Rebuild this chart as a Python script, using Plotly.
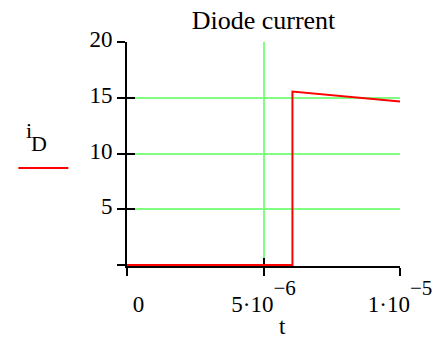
import plotly.graph_objects as go

# diode current trace
t = [0, 6.06e-6, 6.06e-6, 1e-5]
i_D = [0, 0, 15.56, 14.67]

x_tickvals = [0, 5e-6, 1e-5]
x_ticktext = ["\u00a0\u00a0\u00a0\u00a00",
              "5·10<sup><sup><span style='font-size:21px'>−6</span></sup></sup>",
              "1·10<sup><sup><span style='font-size:21px'>−5</span></sup></sup>"]
y_tickvals = [0, 5, 10, 15, 20]
y_ticktext = ["", "5", "10", "15", "20"]

serif = "Liberation Serif, Times New Roman, serif"
green = "#80ff80"

fig = go.Figure()
fig.add_trace(go.Scatter(x=t, y=i_D, mode="lines", line=dict(color="#ff0000", width=2),
                         cliponaxis=False, showlegend=False, hoverinfo="skip"))
# dummy trace so the overlay axes (inner half of the ticks) get drawn
fig.add_trace(go.Scatter(x=[None], y=[None], xaxis="x2", yaxis="y2",
                         showlegend=False, hoverinfo="skip"))

# tiny negative start so the i=0 stretch isn't clipped under the axis line
y_range = [-0.08, 20]

fig.update_layout(
    width=444, height=338, autosize=False,
    margin=dict(l=127, r=33, t=42, b=72),
    paper_bgcolor="white", plot_bgcolor="white",
    font=dict(family=serif, size=23, color="black"),
    title=dict(text="Diode current", x=0.5, xanchor="center", xref="paper",
               y=0.94, yanchor="middle", font=dict(size=26, family=serif, color="black")),
    xaxis=dict(range=[0, 1e-5], tickvals=x_tickvals, ticktext=x_ticktext,
               showline=True, linecolor="black", linewidth=2,
               ticks="outside", ticklen=8, tickwidth=2, tickcolor="black",
               showgrid=True, gridcolor=green, gridwidth=1.5, zeroline=False,
               layer="below traces", tickfont=dict(family=serif, size=23),
               ticklabelstandoff=8),
    yaxis=dict(range=y_range, tickvals=y_tickvals, ticktext=y_ticktext,
               showline=True, linecolor="black", linewidth=2,
               ticks="outside", ticklen=8, tickwidth=2, tickcolor="black",
               showgrid=True, gridcolor=green, gridwidth=1.5, zeroline=False,
               layer="below traces", tickfont=dict(family=serif, size=23),
               ticklabelshift=-3),
    xaxis2=dict(range=[0, 1e-5], overlaying="x", anchor="y", side="bottom",
                tickvals=x_tickvals, ticks="inside", ticklen=8, tickwidth=2,
                tickcolor="black", showticklabels=False, showgrid=False,
                zeroline=False, showline=False, layer="below traces"),
    yaxis2=dict(range=y_range, overlaying="y", anchor="x", side="left",
                tickvals=y_tickvals, ticks="inside", ticklen=8, tickwidth=2,
                tickcolor="black", showticklabels=False, showgrid=False,
                zeroline=False, showline=False, layer="below traces"),
    shapes=[dict(type="line", xref="paper", yref="paper",
                 x0=-0.398, x1=-0.215, y0=0.4375, y1=0.4375,
                 line=dict(color="#ff0000", width=2))],
    annotations=[
        dict(text="i", xref="paper", yref="paper", x=-0.377, y=0.603,
             xanchor="left", yanchor="middle", showarrow=False,
             font=dict(family=serif, size=22)),
        dict(text="D", xref="paper", yref="paper", x=-0.359, y=0.548,
             xanchor="left", yanchor="middle", showarrow=False,
             font=dict(family=serif, size=22)),
        dict(text="t", xref="paper", yref="paper", x=0.569, y=-0.272,
             xanchor="center", yanchor="middle", showarrow=False,
             font=dict(family=serif, size=23)),
    ],
)

# page body has an 8px default margin, drop it so the figure sits at 0,0
fig.write_html("out.html", config={"displayModeBar": False},
               post_script="document.body.style.margin='0';")
